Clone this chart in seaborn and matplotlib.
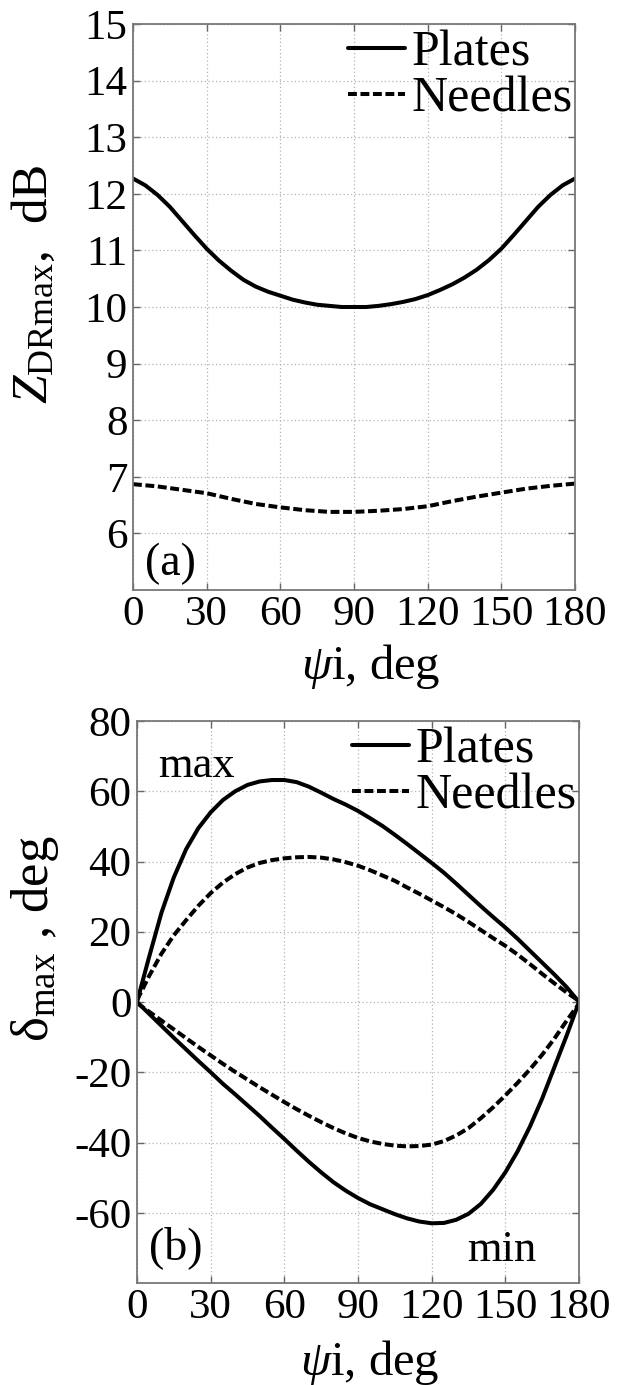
import numpy as np
import pandas as pd
import matplotlib
matplotlib.use("Agg")
import matplotlib.pyplot as plt
from matplotlib.lines import Line2D
import seaborn as sns

# ---- data -------------------------------------------------------------
# (a) maximum differential reflectivity vs. orientation angle
psi_a = [0, 5, 10, 15, 20, 25, 30, 35, 40, 45, 50, 55, 60, 65, 70, 75, 80, 85, 90,
         95, 100, 105, 110, 115, 120, 125, 130, 135, 140, 145, 150, 155, 160, 165,
         170, 175, 180]
zdr_plates = [12.27, 12.15, 11.98, 11.77, 11.52, 11.27, 11.03, 10.82, 10.64, 10.48,
              10.36, 10.27, 10.20, 10.13, 10.08, 10.04, 10.02, 10.00, 10.00,
              10.00, 10.02, 10.05, 10.09, 10.14, 10.21, 10.30, 10.40, 10.52, 10.66,
              10.83, 11.03, 11.27, 11.52, 11.77, 11.98, 12.15, 12.27]
psi_a_n = [0, 10, 20, 30, 40, 50, 60, 70, 80, 90, 100, 110, 120, 130, 140, 150, 160,
           170, 180]
zdr_needles = [6.87, 6.83, 6.77, 6.71, 6.61, 6.52, 6.46, 6.41, 6.38, 6.38, 6.40,
               6.43, 6.48, 6.57, 6.65, 6.72, 6.79, 6.84, 6.88]

# (b) maximum / minimum of delta vs. orientation angle
psi_b = [0, 5, 10, 15, 20, 25, 30, 35, 40, 45, 50, 55, 60, 65, 70, 75, 80, 85, 90,
         95, 100, 105, 110, 115, 120, 125, 130, 135, 140, 145, 150, 155, 160, 165,
         170, 175, 180]
plates_max = [0.0, 13.0, 25.5, 35.5, 43.5, 49.5, 54.0, 57.5, 60.0, 61.8, 62.8, 63.2,
              63.2, 62.6, 61.3, 59.6, 57.8, 56.2, 54.4, 52.3, 50.1, 47.6, 45.0, 42.3,
              39.6, 36.8, 33.7, 30.5, 27.3, 24.2, 21.2, 18.0, 14.6, 11.2, 7.8, 4.2,
              0.0]
plates_min = [0.0, -3.4, -6.8, -10.2, -13.5, -16.8, -20.0, -23.3, -26.3, -29.4,
              -32.5, -35.8, -39.0, -42.3, -45.5, -48.5, -51.3, -53.7, -55.8, -57.6,
              -59.0, -60.4, -61.6, -62.5, -63.0, -62.9, -62.0, -60.3, -57.5, -53.5,
              -48.5, -42.5, -35.5, -27.5, -18.5, -9.5, 0.0]
needles_max = [0.5, 7.5, 13.8, 19.0, 23.3, 27.4, 31.0, 34.0, 36.4, 38.3, 39.6, 40.4,
               40.9, 41.2, 41.3, 41.1, 40.6, 39.8, 38.8, 37.5, 36.0, 34.5, 32.6, 30.8,
               28.9, 27.0, 25.0, 22.8, 20.5, 18.2, 16.0, 13.5, 10.8, 8.0, 5.3, 2.7,
               0.3]
needles_min = [-0.3, -2.8, -5.3, -7.8, -10.3, -12.8, -15.2, -17.6, -19.9, -22.1,
               -24.3, -26.4, -28.5, -30.5, -32.4, -34.2, -35.9, -37.4, -38.7, -39.7,
               -40.4, -40.9, -41.1, -41.0, -40.6, -39.6, -38.0, -35.9, -33.1, -30.0,
               -26.6, -23.0, -19.2, -15.0, -10.4, -5.3, -0.5]

x_ticks = [0, 30, 60, 90, 120, 150, 180]
y_ticks_a = [6, 7, 8, 9, 10, 11, 12, 13, 14, 15]
y_ticks_b = [-60, -40, -20, 0, 20, 40, 60, 80]
shapes = ["Plates", "Needles"]

# ---- tidy frames --------------------------------------------------------
df_a = pd.concat([
    pd.DataFrame({"psi": psi_a, "val": zdr_plates, "shape": "Plates", "branch": "a"}),
    pd.DataFrame({"psi": psi_a_n, "val": zdr_needles, "shape": "Needles", "branch": "a"}),
], ignore_index=True)
df_b = pd.concat([
    pd.DataFrame({"psi": psi_b, "val": plates_max, "shape": "Plates", "branch": "max"}),
    pd.DataFrame({"psi": psi_b, "val": plates_min, "shape": "Plates", "branch": "min"}),
    pd.DataFrame({"psi": psi_b, "val": needles_max, "shape": "Needles", "branch": "max"}),
    pd.DataFrame({"psi": psi_b, "val": needles_min, "shape": "Needles", "branch": "min"}),
], ignore_index=True)
df_b["unit"] = df_b["shape"] + "_" + df_b["branch"]

# ---- style --------------------------------------------------------------
sns.set_theme(style="ticks")
plt.rcParams["font.family"] = ["Liberation Serif", "DejaVu Serif"]
plt.rcParams["mathtext.fontset"] = "custom"
plt.rcParams["mathtext.rm"] = "Liberation Serif"
plt.rcParams["mathtext.it"] = "Liberation Serif:italic"
plt.rcParams["mathtext.bf"] = "Liberation Serif:bold"
plt.rcParams["axes.unicode_minus"] = False
plt.rcParams["text.color"] = "black"
plt.rcParams["axes.labelcolor"] = "black"
plt.rcParams["xtick.labelcolor"] = "black"
plt.rcParams["ytick.labelcolor"] = "black"

LW = 2.9
DASH = (2.2, 0.9)
dash_map = {"Plates": "", "Needles": DASH}
TICK_FS = 31

fig = plt.figure(figsize=(6.19, 13.85), dpi=100)
ax_a = fig.add_axes([133 / 619, 1 - 590 / 1385, 442 / 619, 566 / 1385])
ax_b = fig.add_axes([137 / 619, 1 - 1283 / 1385, 442 / 619, 562 / 1385])

sns.lineplot(data=df_a, x="psi", y="val", style="shape", dashes=dash_map,
             color="black", lw=LW, estimator=None, legend=False, ax=ax_a)
sns.lineplot(data=df_b, x="psi", y="val", style="shape", units="unit",
             dashes=dash_map, color="black", lw=LW, estimator=None,
             legend=False, ax=ax_b)


def dress(ax, ylim, yticks):
    ax.set_xlim(0, 180)
    ax.set_ylim(*ylim)
    ax.set_xticks(x_ticks)
    ax.set_yticks(yticks)
    ax.grid(True, linestyle=(0, (1, 2)), color="#b4b4b4", linewidth=0.9)
    ax.tick_params(direction="in", length=5, width=1, top=True, right=True,
                   color="#666666", labelsize=TICK_FS, labelcolor="black", pad=4)
    for sp in ax.spines.values():
        sp.set_color("#777777")
        sp.set_linewidth(1.3)
    handles = [Line2D([], [], color="black", lw=LW),
               Line2D([], [], color="black", lw=LW, dashes=DASH)]
    ax.legend(handles, shapes, loc="upper right", bbox_to_anchor=(1.0, 0.993),
              frameon=False, fontsize=36, handlelength=1.15, handletextpad=0.12,
              labelspacing=-0.02, borderpad=0.05, borderaxespad=0.0)


dress(ax_a, (5, 15), y_ticks_a)
dress(ax_b, (-80, 80), y_ticks_b)

# axis labels
ax_a.set_xlabel(r"$\psi$i, deg", fontsize=35, va="center")
ax_a.xaxis.set_label_coords(0.538, -0.136)
ax_a.set_ylabel(r"$Z_{\mathrm{DRmax}}$,  dB", fontsize=37, va="center", ha="center")
ax_a.yaxis.set_label_coords(-0.224, 0.54)

ax_b.set_xlabel(r"$\psi$i, deg", fontsize=35, va="center")
ax_b.xaxis.set_label_coords(0.526, -0.1406)
ax_b.set_ylabel(r"$\mathrm{\delta}_{\mathrm{max}}$ , deg", fontsize=38,
                va="center", ha="center")
ax_b.yaxis.set_label_coords(-0.231, 0.612)

# panel annotations
ax_a.text(5, 5.46, "(a)", fontsize=33, ha="left", va="center")
ax_b.text(5, -70, "(b)", fontsize=33, ha="left", va="center")
ax_b.text(8.4, 64, "max", fontsize=32, ha="left", va="baseline")
ax_b.text(134.6, -73.6, "min", fontsize=32, ha="left", va="baseline")

fig.savefig("out.png", dpi=100, facecolor="white")
